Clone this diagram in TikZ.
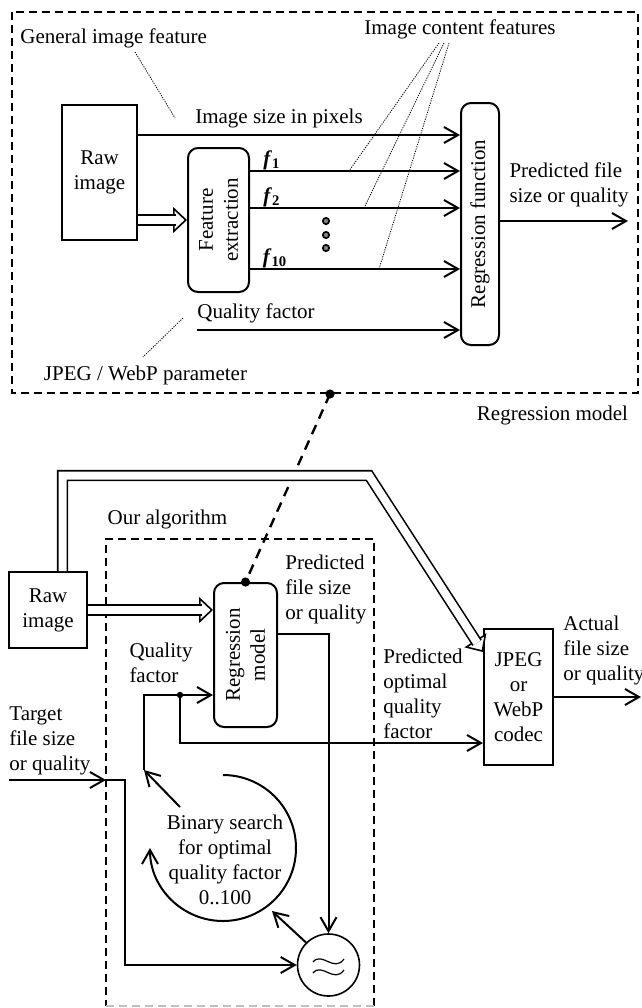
\documentclass[tikz,border=0pt]{standalone}
\usepackage{fontspec}
\setmainfont{Liberation Serif}
\usetikzlibrary{arrows.meta}

\newcommand{\fvar}[1]{\textbf{\textit{f}\textsubscript{#1}}}

\begin{document}
\begin{tikzpicture}[x=0.5pt, y=-0.5pt,
    font=\fontsize{10.5}{12.5}\selectfont,
    box/.style={draw, line width=1pt, inner sep=0pt, align=center},
    rbox/.style={box, rounded corners=5pt},
    lbl/.style={inner sep=0pt, align=center},
    arr/.style={line width=1pt, -{Straight Barb[length=7pt, width=8pt]}},
    dbl/.style={double, double distance=4pt, line width=0.8pt},
    dblhead/.style={line width=0.8pt, -{Triangle[fill=white, length=7pt, width=13pt]}},
    area/.style={line width=0.9pt, dash pattern=on 4pt off 2.5pt},
    hint/.style={line width=0.4pt, dash pattern=on 0.6pt off 0.6pt},
]
    \useasboundingbox (0,0) rectangle (642,1008);

    % 上半部分：回归模型
    \draw[area] (12,12) rectangle (638,393);
    \node[lbl, anchor=west] (gen) at (20,38) {General image feature};
    \node[lbl] (icf) at (460,29) {Image content features};

    \node[box, minimum width=37.5pt, minimum height=67.5pt] (raw1) at (99.5,172.5) {Raw\\image};
    \node[rbox, minimum width=30.5pt, minimum height=72pt] (fe) at (218.5,220) {};
    \node[lbl, rotate=90] at (fe) {Feature\\extraction};
    \node[rbox, minimum width=19pt, minimum height=121pt] (rf) at (480,224) {};
    \node[lbl, rotate=90] at (rf) {Regression function};

    % 输入特征
    \draw[arr] (raw1.east |- 0,135) -- (rf.west |- 0,135);
    \node[lbl] (isz) at (279,118) {Image size in pixels};
    \draw[dblhead] (raw1.east |- 0,220) -- (fe.west |- 0,220);
    \draw[dbl, shorten >=5.5pt] (raw1.east |- 0,220) -- (fe.west |- 0,220);

    \draw[arr] (fe.east |- 0,171) -- (rf.west |- 0,171);
    \draw[arr] (fe.east |- 0,208) -- (rf.west |- 0,208);
    \draw[arr] (fe.east |- 0,269) -- (rf.west |- 0,269);
    \node[lbl] (lf1) at (272,160) {\fvar{1}};
    \node[lbl] (lf2) at (272,197) {\fvar{2}};
    \node[lbl] (lf10) at (275,258) {\fvar{10}};
    \foreach \y in {221,235,248}
        \draw[line width=0.8pt, fill=gray] (326,\y) circle (1.6pt);

    \node[lbl] (qf1) at (256,313) {Quality factor};
    \draw[arr] (197,330) -- (rf.west |- 0,330);

    \draw[arr] (rf.east |- 0,221) -- (628,221);
    \node[lbl, align=left] (pf1) at (569,185) {Predicted file\\size or quality};

    \node[lbl] (jwp) at (145.5,375) {JPEG / WebP parameter};
    \node[lbl] (rml) at (552.5,415) {Regression model};

    % 点线标注
    \draw[hint] (135,52) -- (175,118);
    \draw[hint] (183,318) -- (143,357);
    \foreach \xa/\xb/\yb in {439/349/171, 444/364/208, 449/379/269}
        \draw[hint] (\xa,43) -- (\xb,\yb);

    % 下半部分：算法
    \node[box, minimum width=39pt, minimum height=38pt] (raw2) at (48,610) {Raw\\image};
    \node[rbox, minimum width=31.5pt, minimum height=72pt] (rm) at (245.5,655) {};
    \node[lbl, rotate=90] at (rm) {Regression\\model};
    \node[box, minimum width=34.5pt, minimum height=68pt] (codec) at (518.5,697) {JPEG\\or\\WebP\\codec};
    \node[circle, draw, line width=0.8pt, minimum size=31pt, inner sep=0pt] (cmp) at (328.5,965) {};
    % 比较器中的 ≈
    \draw[line width=0.6pt] (313,962) .. controls (322,951) and (334,973) .. (344,959);
    \draw[line width=0.6pt] (313,973) .. controls (322,962) and (334,984) .. (344,970);

    \draw[area] (374,1006) -- (374,539) -- (106,539) -- (106,1006);
    \draw[area, gray!50] (106,1006) -- (374,1006);
    \node[lbl] (oa) at (167.5,519) {Our algorithm};

    % 虚线连接
    \coordinate (rmdot) at (330,394);
    \draw[line width=1.2pt, dash pattern=on 5pt off 3.5pt] (rmdot) -- (rm.north);
    \fill (rmdot) circle (2.3pt);
    \fill (rm.north) circle (2.3pt);

    % 双线箭头
    \draw[dblhead] (raw2.east) -- (rm.west |- raw2.east);
    \draw[dbl, shorten >=5.5pt] (raw2.east) -- (rm.west |- raw2.east);
    \draw[dblhead] (369,475.5) -- (codec.west |- 0,652);
    \draw[dbl, shorten >=5.5pt] (62.5,0 |- raw2.north) -- (62.5,475.5) -- (369,475.5) -- (codec.west |- 0,652);

    \draw[arr] (rm.east |- 0,634) -- (328.5,634) -- (cmp.north);
    \node[lbl, align=left, anchor=west] (pfs) at (285,589) {Predicted\\file size\\or quality};

    \node[lbl, align=left] (qf2) at (161,663) {Quality\\factor};
    \coordinate (qdot) at (180,695);
    \draw[arr] (144,770) -- (144,695) -- (rm.west |- qdot);
    \draw[arr] (qdot) -- (180,743) -- (codec.west |- 0,743);
    \fill (qdot) circle (1.6pt);
    \node[lbl, align=left, anchor=west] (poq) at (383,694) {Predicted\\optimal\\quality\\factor};

    \node[lbl, align=left, anchor=west] (tgt) at (9,741) {Target\\file size\\or quality};
    \draw[arr] (9,780) -- (106,780);
    \draw[arr] (106,780) -- (125,780) -- (125,0 |- cmp.west) -- (cmp.west);

    \draw[arr] (codec.east) -- (641,697);
    \node[lbl, align=left, anchor=west] (afs) at (563,650) {Actual\\file size\\or quality};

    % 二分查找
    \node[lbl] (bs) at (225,860) {Binary search\\for optimal\\quality factor\\0..100};
    \draw[arr] (223,775) arc[start angle=90, end angle=-180, radius=36.5pt];
    \draw[arr] (cmp.135) -- (272,911);
    \draw[arr] (180,807) -- (144,770);

\end{tikzpicture}
\end{document}
